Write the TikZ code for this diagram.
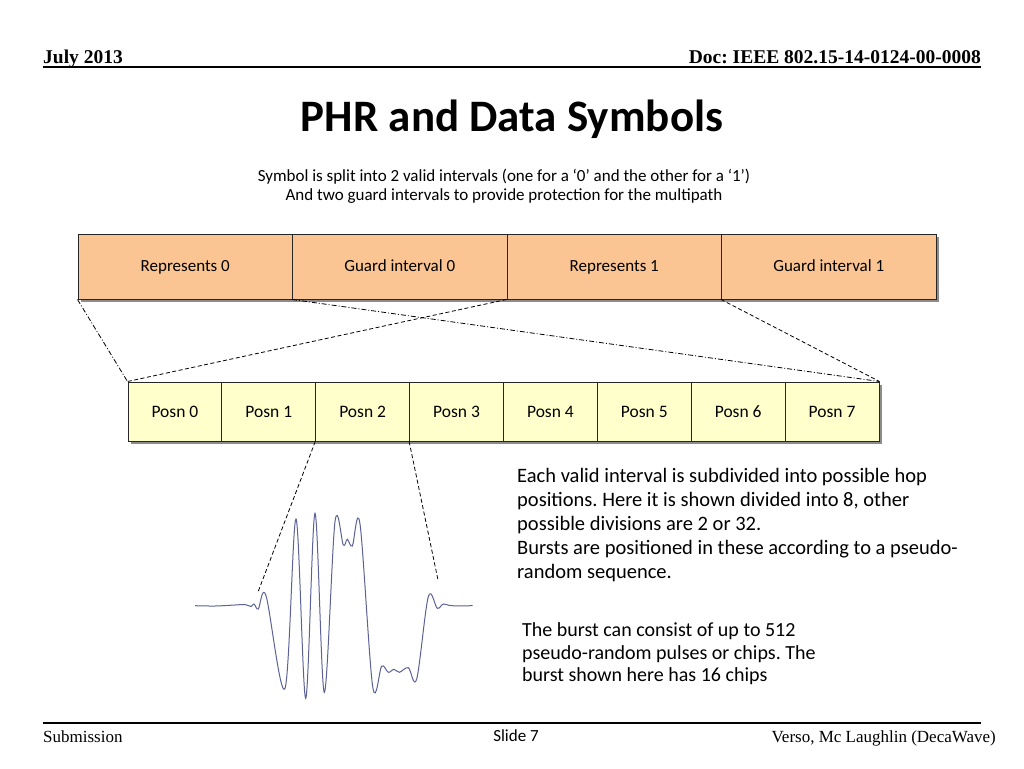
\documentclass[tikz,border=0pt]{standalone}
\usepackage{fontspec}
\setmainfont{Liberation Serif}
\newfontfamily\carl{Carlito}
\usetikzlibrary{shadows}
\frenchspacing
\definecolor{topfill}{HTML}{FBC593}
\definecolor{posfill}{HTML}{FFFFCC}
\definecolor{wave}{HTML}{5C6196}
\tikzset{
  topbox/.style={draw=black!85, line width=1pt, fill=topfill, minimum width=214.5pt, minimum height=65pt, inner sep=0pt, font=\carl\fontsize{17}{20}\selectfont,
    text height=12pt, text depth=3pt,
    drop shadow={shadow xshift=3pt, shadow yshift=-3pt, fill=black!45, opacity=1}},
  posbox/.style={draw=black!85, line width=1pt, fill=posfill, minimum width=93.875pt, minimum height=59pt, inner sep=0pt, font=\carl\fontsize{17.5}{20}\selectfont,
    text height=15pt, text depth=3pt,
    drop shadow={shadow xshift=3pt, shadow yshift=-3pt, fill=black!45, opacity=1}},
  dashdot/.style={line width=0.8pt, dash pattern=on 5pt off 2pt on 1pt off 2pt},
  dashline/.style={line width=0.8pt, dash pattern=on 4pt off 2.5pt},
  bodytext/.style={font=\carl\fontsize{20.5}{24}\selectfont, align=left, inner sep=0pt, anchor=north west},
}
\begin{document}
\begin{tikzpicture}[x=1pt,y=-1pt]
\useasboundingbox (0,0) rectangle (1024,768);
% header
\node[anchor=base west, inner sep=0pt, font=\bfseries\fontsize{19.5}{22}\selectfont] (hl) at (43,63.5) {July 2013};
\node[anchor=base east, inner sep=0pt, font=\bfseries\fontsize{19.5}{22}\selectfont] (hr) at (981,63.5) {Doc: IEEE 802.15-14-0124-00-0008};
\draw[line width=1.5pt] (43,67) -- (981,67);
% title
\node[anchor=base, inner sep=0pt, font=\carl\bfseries\fontsize{45}{50}\selectfont] (title) at (512,131) {PHR and Data Symbols};
\node[align=center, inner sep=0pt, font=\carl\fontsize{17}{19}\selectfont] (sub) at (504,186) {Symbol is split into 2 valid intervals (one for a ‘0’ and the other for a ‘1’)\\And two guard intervals to provide protection for the multipath};
% top boxes
\foreach \i/\t in {0/Represents 0,1/Guard interval 0,2/Represents 1,3/Guard interval 1}{
  \node[topbox] (t\i) at ({78+214.5*(\i+0.5)},266.5) {\t};
}
% posn boxes
\foreach \i in {0,...,7}{
  \node[posbox] (p\i) at ({128+93.875*(\i+0.5)},411.5) {Posn \i};
}
% connectors
\draw[dashdot] (t0.south west) -- (p0.north west);
\draw[dashdot] (t1.south west) -- (p7.north east);
\draw[dashline] (t2.south west) -- (p0.north west);
\draw[dashline] (t3.south west) -- (p7.north east);
\coordinate (w1) at (258,592);
\coordinate (w2) at (438,580);
\draw[dashline] (p2.south west) -- (w1);
\draw[dashline] (p3.south west) -- (w2);
% waveform
\draw[wave, line width=1pt] plot[smooth, tension=0.55] coordinates {
 (195,605.7) (215,606) (235,605) (245,604.5) (251,606.5) (254,604) (258.3,609) (266,595.7)
 (285,688.3) (296,519) (305.7,698.3) (315,513.3) (324.3,692.3) (335,521.7)
 (343.3,545) (347.3,539.3) (352.3,546) (360,524) (372.7,686.7) (381.7,666)
 (388.3,672.3) (394,669.3) (399.3,672.3) (408.3,667.7) (416.7,679) (428.3,596.7)
 (437.3,608.3) (443.3,604) (451.7,605.7) (472.7,605.7)};
% texts
\node[bodytext] (txt1) at (517,468.5) {Each valid interval is subdivided into possible hop\\positions. Here it is shown divided into 8, other\\possible divisions are 2 or 32.\\Bursts are positioned in these according to a pseudo-\\random sequence.};
\node[bodytext, font=\carl\fontsize{20}{22.5}\selectfont] (txt2) at (522,622.5) {The burst can consist of up to 512\\pseudo-random pulses or chips. The\\burst shown here has 16 chips};
% footer
\draw[line width=1.5pt] (43,723) -- (981,723);
\node[anchor=base west, inner sep=0pt, font=\fontsize{17}{19}\selectfont] (fl) at (43,742.5) {Submission};
\node[anchor=base, inner sep=0pt, font=\carl\fontsize{17}{19}\selectfont] (fc) at (516,741) {Slide 7};
\node[anchor=base east, inner sep=0pt, font=\fontsize{17}{19}\selectfont] (fr) at (996,742.5) {Verso, Mc Laughlin (DecaWave)};
\end{tikzpicture}
\end{document}
